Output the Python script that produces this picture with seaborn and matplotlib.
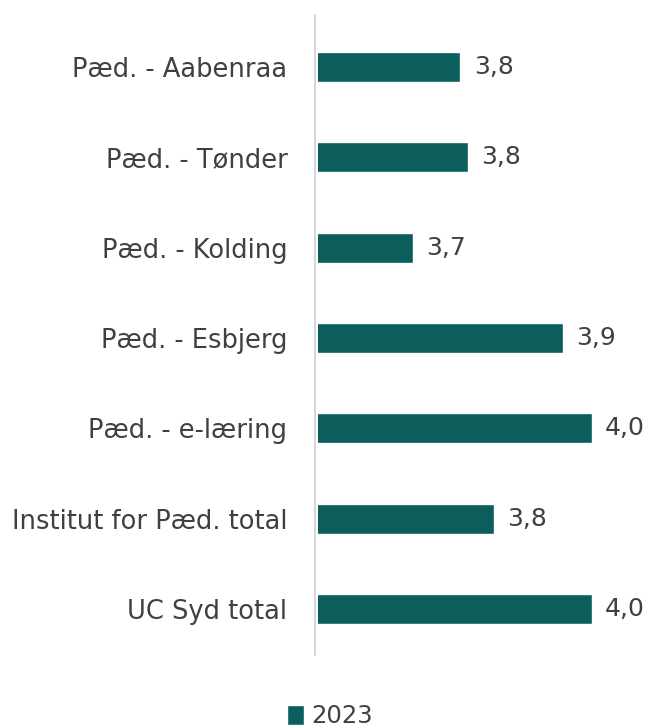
import matplotlib
matplotlib.use("Agg")
import matplotlib.pyplot as plt
import seaborn as sns
import pandas as pd

categories = ["Pæd. - Aabenraa", "Pæd. - Tønder", "Pæd. - Kolding", "Pæd. - Esbjerg",
              "Pæd. - e-læring", "Institut for Pæd. total", "UC Syd total"]
values = [3.76, 3.774, 3.674, 3.947, 4.00, 3.822, 4.00]
year = ["2023"] * len(categories)

df = pd.DataFrame({"cat": categories, "val": values, "year": year})

sns.set_theme(style="white")
plt.rcParams["font.family"] = ["DejaVu Sans"]

W, H = 651, 727
fig = plt.figure(figsize=(W / 100, H / 100), dpi=100)
ax_left, ax_top, ax_bottom, ax_right = 318, 15, 655, 651
ax = fig.add_axes([ax_left / W, 1 - ax_bottom / H, (ax_right - ax_left) / W, (ax_bottom - ax_top) / H])

color = "#0b5e5b"
sns.barplot(data=df, y="cat", x="val", hue="year", palette=[color], orient="h",
            width=0.33, ax=ax, legend=True, saturation=1)

ax.set_xlim(3.5, 3.5 + (ax_right - ax_left) / 548)
ax.set_ylim(6.51, -0.576)
ax.set_xlabel("")
ax.set_ylabel("")
ax.set_xticks([])
for s in ["top", "right", "bottom"]:
    ax.spines[s].set_visible(False)
ax.spines["left"].set_color("#d0d0d0")
ax.spines["left"].set_linewidth(1.2)
ax.spines["left"].set_position(("outward", 2))
ax.tick_params(axis="y", length=0, pad=20, labelsize=18.5, labelcolor="#404040")

for i, v in enumerate(values):
    ax.text(v + 0.024, i, f"{v:.1f}".replace(".", ","), va="center", ha="left",
            fontsize=18, color="#404040")

leg = ax.legend(loc="center", bbox_to_anchor=(330 / W, 1 - 716 / H), bbox_transform=fig.transFigure,
                frameon=False, fontsize=17.5, handlelength=0.7, handleheight=0.9,
                handletextpad=0.3, labelcolor="#404040")

fig.savefig("out.png", dpi=100, facecolor="white")
